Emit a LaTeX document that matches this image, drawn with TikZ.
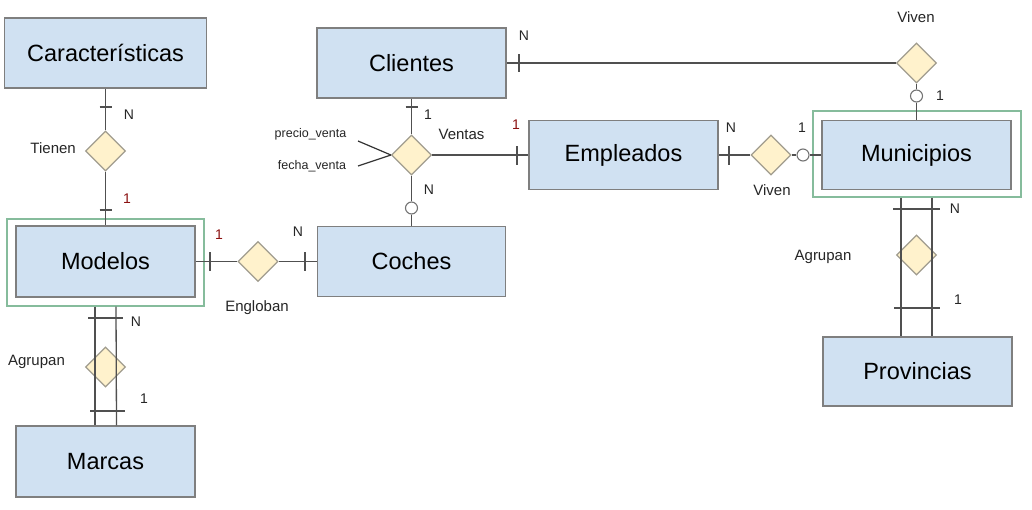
\documentclass[tikz,border=0pt]{standalone}
\usepackage{fontspec}
\setmainfont{Liberation Sans}
\usetikzlibrary{shapes.geometric}
\definecolor{entfill}{HTML}{D0E1F2}
\definecolor{entdraw}{HTML}{7F7F7F}
\definecolor{relfill}{HTML}{FFF2CC}
\definecolor{reldraw}{HTML}{A09C8E}
\definecolor{wkframe}{HTML}{86BC9C}
\definecolor{link}{HTML}{505050}
\definecolor{cardred}{HTML}{8B1010}
\begin{document}
\begin{tikzpicture}[x=1pt,y=-1pt,
 ent/.style={draw=entdraw,fill=entfill,line width=1.5pt,inner sep=0pt,font=\fontsize{23.5}{26}\selectfont},
 rel/.style={diamond,aspect=1,draw=reldraw,fill=relfill,line width=1.2pt,minimum size=40pt,inner sep=0pt},
 wk/.style={draw=wkframe,line width=1.2pt,inner sep=0pt},
 lk/.style={draw=link,line width=1.3pt},
 tk/.style={draw=link,line width=1.3pt},
 opt/.style={circle,draw=link!80,fill=white,line width=1.1pt,minimum size=12pt,inner sep=0pt},
 lbl/.style={font=\fontsize{15}{17}\selectfont,text=black!85,inner sep=0pt},
 att/.style={font=\fontsize{12.5}{14}\selectfont,text=black!85,inner sep=0pt},
 cn/.style={font=\fontsize{14}{16}\selectfont,text=black!85,inner sep=0pt},
 cr/.style={font=\fontsize{14}{16}\selectfont,text=cardred,inner sep=0pt},
]
\useasboundingbox[fill=white] (0,0) rectangle (1032,509);

% weak entity frames
\node[wk,minimum width=197pt,minimum height=87pt] (modf) at (105.5,262.5) {};
\node[wk,minimum width=208pt,minimum height=86pt] (munf) at (917,154) {};

% entities
\node[ent,minimum width=202pt,minimum height=70pt] (car) at (105.5,53) {Características};
\node[ent,minimum width=179pt,minimum height=71pt] (mod) at (105.5,261.5) {Modelos};
\node[ent,minimum width=179pt,minimum height=71pt] (mar) at (105.5,461.5) {Marcas};
\node[ent,minimum width=189pt,minimum height=70pt] (cli) at (411.5,63) {Clientes};
\node[ent,minimum width=188pt,minimum height=70pt] (coc) at (411.5,261.5) {Coches};
\node[ent,minimum width=189pt,minimum height=69pt] (emp) at (623.5,155) {Empleados};
\node[ent,minimum width=189pt,minimum height=69pt] (mun) at (916.5,155) {Municipios};
\node[ent,minimum width=189pt,minimum height=69pt] (pro) at (917.5,371.5) {Provincias};

% relationships
\node[rel] (tie) at (105.5,151) {};
\node[rel] (eng) at (258,261.5) {};
\node[rel] (agr1) at (105.5,367) {};
\node[rel] (ven) at (411.5,155) {};
\node[rel] (viv1) at (771,155) {};
\node[rel] (viv2) at (916.5,63) {};
\node[rel] (agr2) at (916.5,255) {};

% optional circles
\node[opt] (o1) at (411.5,208) {};
\node[opt] (o2) at (916.5,96) {};
\node[opt] (o3) at (803,155) {};

% Tienen
\draw[lk] (car.south) -- (tie.north);
\draw[lk] (tie.south) -- (mod.north);
\draw[tk] (99.5,107) -- (111.5,107);
\draw[tk] (99.5,210) -- (111.5,210);

% Engloban
\draw[lk] (mod.east) -- (eng.west);
\draw[lk] (eng.east) -- (coc.west);
\draw[tk] (210,252) -- (210,271);
\draw[tk] (305,252) -- (305,271);

% Agrupan (left)
\draw[lk] ([xshift=-10.5pt]modf.south) -- ([xshift=-10.5pt]mar.north);
\draw[lk] ([xshift=10.5pt]modf.south) -- ([xshift=11pt]mar.north);
\draw[tk] (88,318) -- (123,318);
\draw[tk] (90,411) -- (125,411);

% Ventas
\draw[lk] (cli.south) -- (ven.north);
\draw[tk] (405.5,107) -- (417.5,107);
\draw[lk] (ven.east) -- (emp.west);
\draw[tk] (517,146) -- (517,165);
\draw[lk] (ven.south) -- (o1.north);
\draw[lk] (o1.south) -- (coc.north);
\coordinate (pv) at (358,141);
\coordinate (fv) at (358,166);
\draw[draw=black!80,line width=1.2pt] (pv) -- (ven.west);
\draw[draw=black!80,line width=1.2pt] (fv) -- (ven.west);

% Viven (top)
\draw[lk] (cli.east) -- (viv2.west);
\draw[tk] (519,54) -- (519,72);
\draw[lk] (viv2.south) -- (o2.north);
\draw[lk] (o2.south) -- (mun.north);

% Viven (middle)
\draw[lk] (emp.east) -- (viv1.west);
\draw[tk] (729,146) -- (729,165);
\draw[lk] (viv1.east) -- (o3.west);
\draw[lk] (o3.east) -- (mun.west);

% Agrupan (right)
\draw[lk] ([xshift=-16pt]munf.south) -- ([xshift=-16.5pt]pro.north);
\draw[lk] ([xshift=15pt]munf.south) -- ([xshift=14.5pt]pro.north);
\draw[tk] (893,209) -- (940,209);
\draw[tk] (894,308) -- (940,308);

% labels
\node[lbl,anchor=east] (lTie) at (76,148) {Tienen};
\node[cn] (c1) at (129,115) {N};
\node[cr] (c2) at (127,199) {1};
\node[lbl] (lEng) at (257,308) {Engloban};
\node[cr] (c3) at (219,235) {1};
\node[cn] (c4) at (298,232) {N};
\node[lbl] (lAgr1) at (36.5,362) {Agrupan};
\node[cn] (c5) at (136,322) {N};
\node[cn] (c6) at (144,399) {1};
\node[att] (aPre) at (310.5,134) {precio\_venta};
\node[att] (aFec) at (312,166) {fecha\_venta};
\node[lbl] (lVen) at (461.5,134.5) {Ventas};
\node[cn] (c7) at (428,115) {1};
\node[cn] (c8) at (429,190) {N};
\node[cn] (c9) at (524,36) {N};
\node[cr] (c10) at (516,125) {1};
\node[cn] (c11) at (731,128) {N};
\node[cn] (c12) at (802,128) {1};
\node[lbl] (lViv1) at (772,190) {Viven};
\node[lbl] (lViv2) at (916,17) {Viven};
\node[cn] (c13) at (940,96) {1};
\node[cn] (c14) at (955,209) {N};
\node[cn] (c15) at (958,300) {1};
\node[lbl] (lAgr2) at (823,257) {Agrupan};
\end{tikzpicture}
\end{document}
